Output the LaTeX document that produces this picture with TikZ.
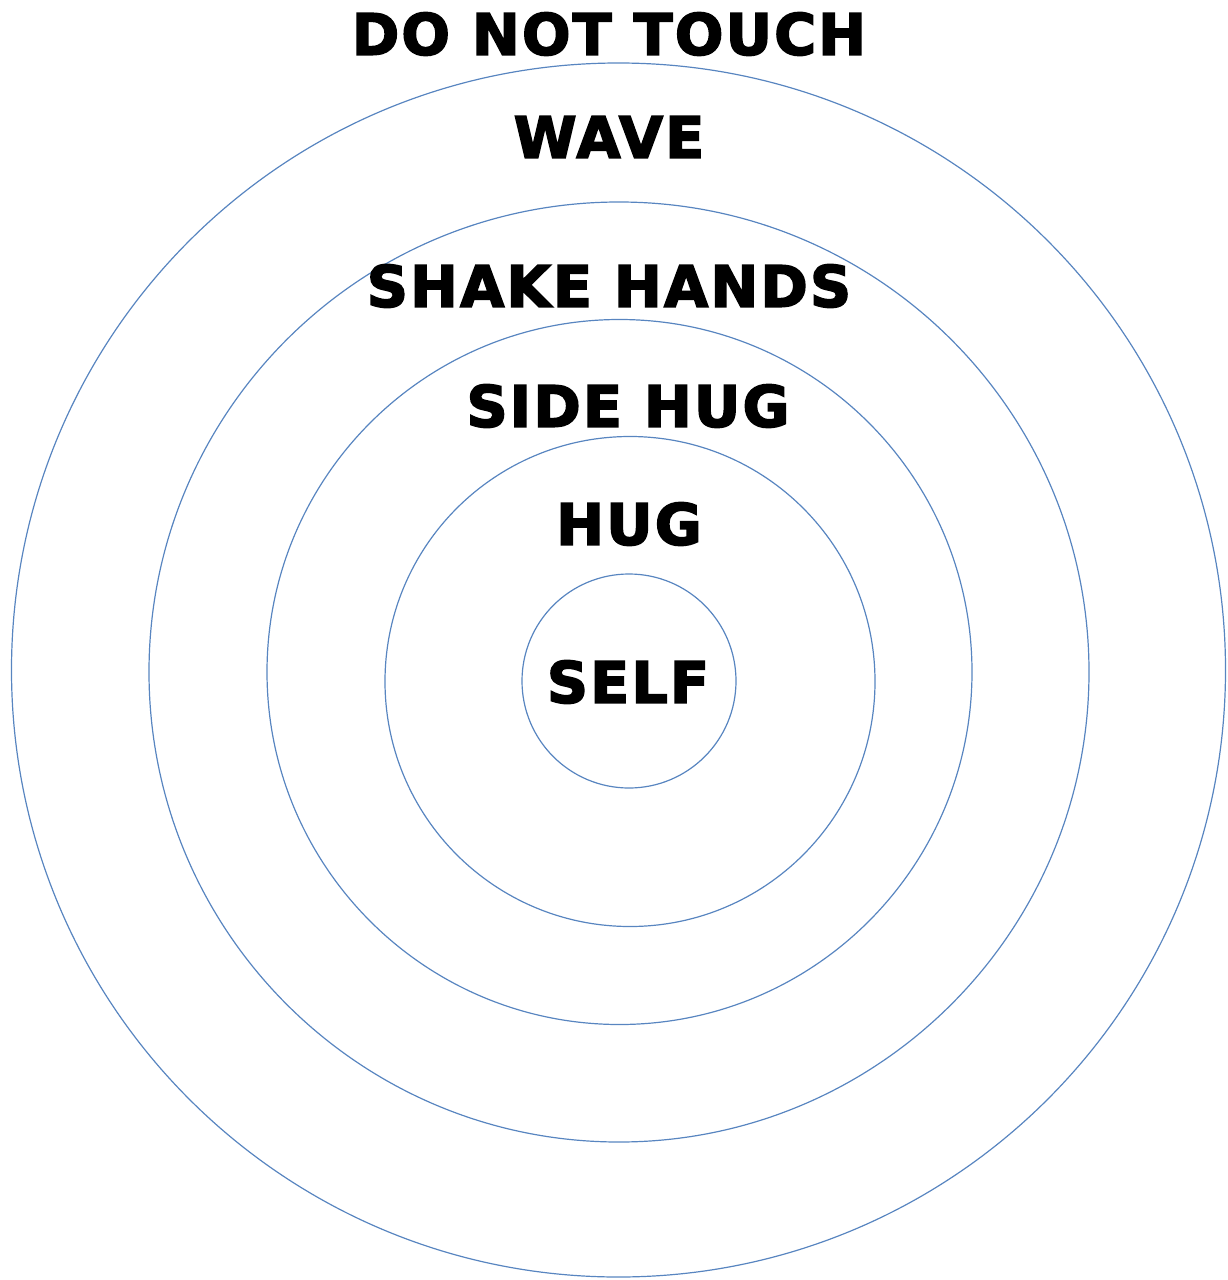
\documentclass[tikz,border=0pt]{standalone}
\usepackage{fontspec}
\setmainfont{DejaVu Sans}[BoldFeatures={FakeBold=3,LetterSpace=4}]
\usepackage{tikz}
\usetikzlibrary{positioning}

\definecolor{ringblue}{RGB}{88,133,192}

\begin{document}
\begin{tikzpicture}[
    x=1pt, y=-1pt,
    ring/.style={draw=ringblue, line width=1.2pt},
    zone/.style={font=\fontsize{57}{60}\selectfont\bfseries, inner sep=0pt, anchor=center}
]
    \useasboundingbox (0,0) rectangle (1227,1280);

    % rings, outermost first
    \draw[ring] (618.5,670) circle (607);
    \draw[ring] (619,672) circle (470);
    \draw[ring] (619.5,672) circle (352.5);
    \draw[ring] (630,681.5) circle (245);
    \draw[ring] (629,681) circle (107);

    % labels
    \node[zone] (donottouch) at (609,34) {DO NOT TOUCH};
    \node[zone] (wave) at (609,137) {WAVE};
    \node[zone] (shakehands) at (609,286) {SHAKE HANDS};
    \node[zone] (sidehug) at (628,406) {SIDE HUG};
    \node[zone] (hug) at (629,524) {HUG};
    \node[zone] (self) at (628,682) {SELF};
\end{tikzpicture}
\end{document}
